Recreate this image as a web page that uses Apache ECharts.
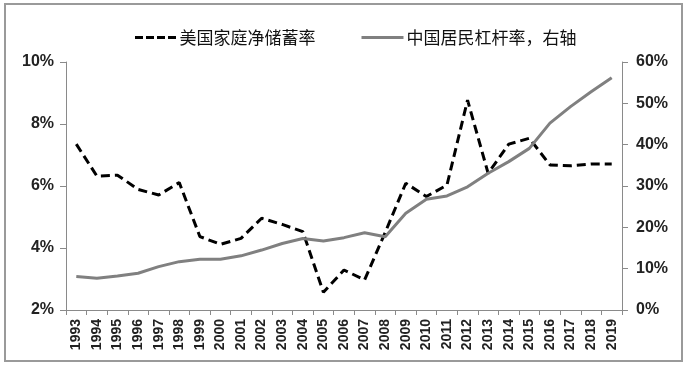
<!DOCTYPE html>
<html><head><meta charset="utf-8">
<script src="https://cdn.jsdelivr.net/npm/echarts@6/dist/echarts.min.js"></script>
<style>html,body{margin:0;padding:0;background:#fff}#c{width:686px;height:369px}</style>
</head><body><div id="c"></div>
<script>
var years = ['1993','1994','1995','1996','1997','1998','1999','2000','2001','2002','2003','2004','2005','2006','2007','2008','2009','2010','2011','2012','2013','2014','2015','2016','2017','2018','2019'];
var usSaving = [7.35,6.32,6.35,5.89,5.71,6.11,4.37,4.12,4.31,4.96,4.76,4.53,2.57,3.29,2.97,4.5,6.09,5.66,6.03,8.77,6.41,7.35,7.54,6.68,6.65,6.71,6.71];
var cnLeverage = [8.1,7.7,8.2,8.9,10.5,11.7,12.3,12.3,13.1,14.5,16.1,17.3,16.7,17.5,18.7,17.7,23.4,26.8,27.6,29.8,33.1,35.9,39.1,45.2,49.2,52.8,56.2];
var leftTicks = {min:2, max:10, interval:2};
var rightTicks = {min:0, max:60, interval:10};
var seriesNames = ['美国家庭净储蓄率','中国居民杠杆率，右轴'];

var chart = echarts.init(document.getElementById('c'));
var axisLabelStyle = {color:'#222', fontWeight:'bold', fontSize:16, fontFamily:'"Liberation Sans", Arial, sans-serif', formatter:'{value}%'};
chart.setOption({
  animation:false,
  backgroundColor:'#fff',
  graphic:[{type:'rect', shape:{x:5,y:4,width:677,height:357}, style:{fill:'none', stroke:'#9a9a9a', lineWidth:2}, silent:true}],
  legend:{
    top:24, left:130, itemGap:46, itemWidth:42, itemHeight:3,
    textStyle:{fontSize:17, color:'#111', fontFamily:'"Noto Sans CJK SC", sans-serif', padding:[0,0,0,-2]},
    data:[
      {name:seriesNames[0], icon:'path://M0,0H8V3H0Z M11,0H19V3H11Z M22,0H30V3H22Z M33,0H41V3H33Z'},
      {name:seriesNames[1], icon:'rect'}
    ]
  },
  grid:{left:66, right:64, top:62, bottom:59, containLabel:false},
  xAxis:{
    type:'category', data:years, boundaryGap:true,
    axisLine:{lineStyle:{color:'#8a8a8a', width:1}},
    axisTick:{show:true, length:5, lineStyle:{color:'#8a8a8a'}},
    axisLabel:{rotate:90, interval:0, color:'#222', fontWeight:'bold', fontSize:14, fontFamily:'"Liberation Sans", Arial, sans-serif', margin:9}
  },
  yAxis:[
    {type:'value', min:leftTicks.min, max:leftTicks.max, interval:leftTicks.interval, position:'left',
     axisLine:{show:true, lineStyle:{color:'#8a8a8a'}}, axisTick:{show:true, length:6, lineStyle:{color:'#8a8a8a'}},
     splitLine:{show:false}, axisLabel:Object.assign({margin:12}, axisLabelStyle)},
    {type:'value', min:rightTicks.min, max:rightTicks.max, interval:rightTicks.interval, position:'right',
     axisLine:{show:true, lineStyle:{color:'#8a8a8a'}}, axisTick:{show:true, length:6, lineStyle:{color:'#8a8a8a'}},
     splitLine:{show:false}, axisLabel:Object.assign({margin:14}, axisLabelStyle)}
  ],
  series:[
    {name:seriesNames[0], type:'line', yAxisIndex:0, data:usSaving, symbol:'none',
     lineStyle:{color:'#000', width:3, type:[9,5]}, itemStyle:{color:'#000'}},
    {name:seriesNames[1], type:'line', yAxisIndex:1, data:cnLeverage, symbol:'none',
     lineStyle:{color:'#808080', width:3}, itemStyle:{color:'#808080'}}
  ]
});
</script></body></html>
